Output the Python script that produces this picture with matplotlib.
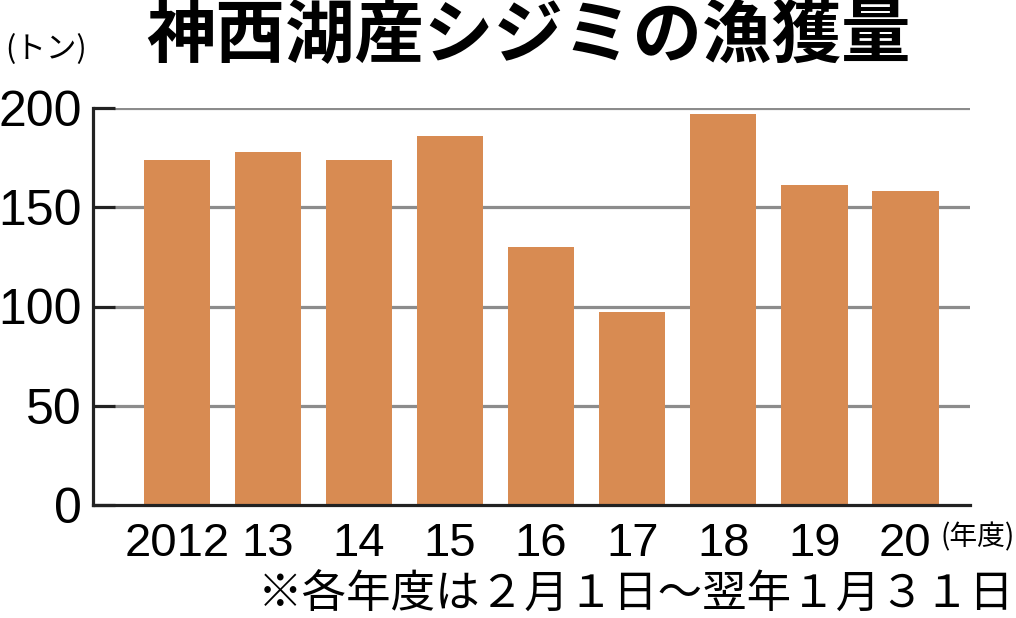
import matplotlib
matplotlib.use("Agg")
import matplotlib.pyplot as plt

years = ["2012", "13", "14", "15", "16", "17", "18", "19", "20"]
catch = [174, 178, 174, 186, 130, 97, 197, 161, 158]
yticks = [0, 50, 100, 150, 200]

num_font = ["Liberation Sans", "DejaVu Sans"]
jp_font = ["Noto Sans CJK JP", "DejaVu Sans"]
bar_color = "#d88b52"

fig = plt.figure(figsize=(10.16, 6.18), dpi=100)
ax = fig.add_axes([93 / 1016, 1 - 505 / 618, 877 / 1016, 397 / 618])

x = list(range(len(years)))
ax.bar(x, catch, width=0.73, color=bar_color, zorder=2)

for y in yticks[1:]:
    ax.axhline(y, xmin=22 / 877, xmax=1, color="#8c8c8c", lw=2.3, zorder=1)

ax.set_xlim(-0.92, 8.71)
ax.set_ylim(0, 200)
ax.set_yticks(yticks)
ax.set_yticklabels([str(v) for v in yticks], family=num_font, fontsize=36)
ax.set_xticks(x)
ax.set_xticklabels(years, family=num_font, fontsize=34)

ax.tick_params(axis="y", direction="in", length=16, width=2.3, color="#222222", pad=8)
ax.tick_params(axis="x", length=0, pad=12)

for s in ["top", "right"]:
    ax.spines[s].set_visible(False)
for s in ["left", "bottom"]:
    ax.spines[s].set_linewidth(2.3)
    ax.spines[s].set_color("#222222")
    ax.spines[s].set_zorder(3)

fig.text(0.52, 0.94, "神西湖産シジミの漁獲量", family=jp_font, fontweight="bold",
         fontsize=50, ha="center", va="center")
fig.text(0.005, 0.92, "(トン)", family=jp_font, fontsize=22, ha="left", va="center")
fig.text(0.999, 0.13, "(年度)", family=jp_font, fontsize=20, ha="right", va="center")
fig.text(0.998, 0.037, "※各年度は２月１日～翌年１月３１日", family=jp_font,
         fontsize=32, ha="right", va="center")

fig.savefig("out.png", dpi=100)
